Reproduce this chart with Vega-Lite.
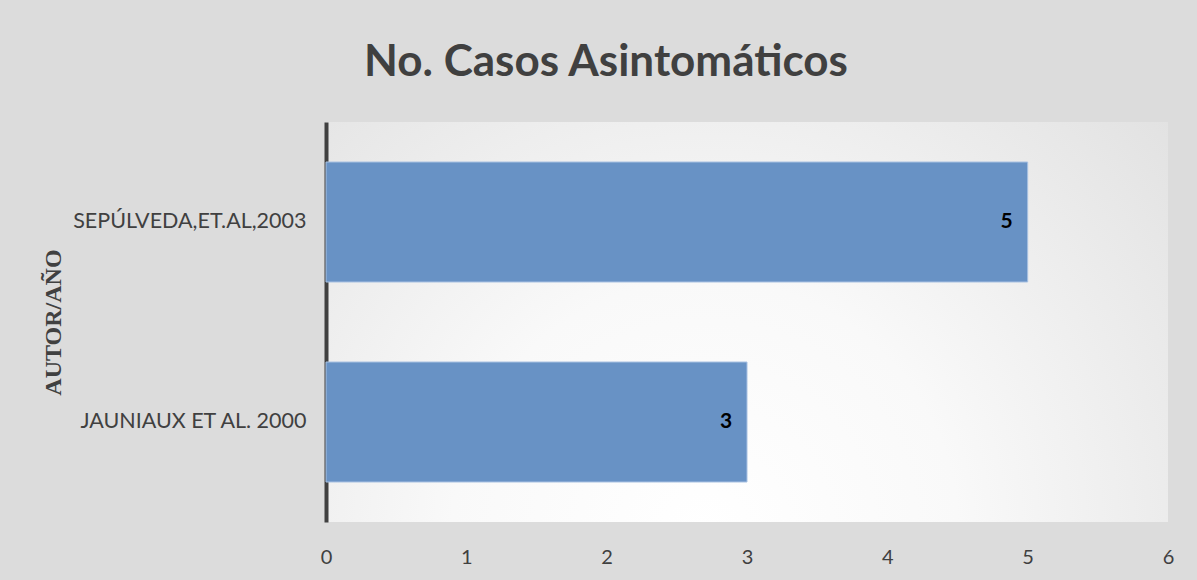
{
  "$schema": "https://vega.github.io/schema/vega-lite/v6.json",
  "width": 842,
  "height": 400,
  "autosize": {"type": "none"},
  "padding": {"left": 326, "top": 122, "right": 29, "bottom": 58},
  "background": "#dcdcdc",
  "title": {
    "text": "No. Casos Asintomáticos",
    "font": "Lato",
    "fontSize": 44,
    "fontWeight": "bold",
    "color": "#404040",
    "anchor": "middle",
    "dx": -141,
    "offset": 37
  },
  "config": {
    "view": {
      "stroke": null,
      "fill": {
        "gradient": "radial",
        "x1": 0.45, "y1": 0.75, "x2": 0.45, "y2": 0.75,
        "r1": 0, "r2": 1,
        "stops": [
          {"offset": 0, "color": "#ffffff"},
          {"offset": 0.3, "color": "#f9f9f9"},
          {"offset": 0.85, "color": "#dcdcdc"},
          {"offset": 1, "color": "#dcdcdc"}
        ]
      }
    }
  },
  "data": {
    "values": [
      {"autor": "SEPÚLVEDA,ET.AL,2003", "casos": 5},
      {"autor": "JAUNIAUX ET AL. 2000", "casos": 3}
    ]
  },
  "encoding": {
    "y": {
      "field": "autor",
      "type": "nominal",
      "sort": ["SEPÚLVEDA,ET.AL,2003", "JAUNIAUX ET AL. 2000"],
      "scale": {"paddingInner": 0.4, "paddingOuter": 0.2},
      "axis": {
        "title": "AUTOR/AÑO",
        "titleFont": "Liberation Serif",
        "titleFontSize": 24,
        "titleFontWeight": "bold",
        "titleColor": "#404040",
        "titlePadding": 61,
        "labelFont": "Lato",
        "labelFontSize": 21.5,
        "labelColor": "#404040",
        "labelPadding": 20,
        "labelLimit": 320,
        "ticks": false,
        "domainColor": "#404040",
        "domainWidth": 4
      }
    },
    "x": {
      "field": "casos",
      "type": "quantitative",
      "scale": {"domain": [0, 6]},
      "axis": {
        "title": null,
        "values": [0, 1, 2, 3, 4, 5, 6],
        "grid": false,
        "domain": false,
        "ticks": false,
        "labelFont": "Lato",
        "labelFontSize": 20,
        "labelColor": "#404040",
        "labelPadding": 25,
        "labelFlush": false
      }
    }
  },
  "layer": [
    {"mark": {"type": "bar", "color": "#6892c5", "stroke": "#a8c1e2", "strokeWidth": 1}},
    {
      "mark": {"type": "text", "align": "center", "dx": -21, "font": "Lato", "fontSize": 21, "fontWeight": "bold", "color": "#000000"},
      "encoding": {"text": {"field": "casos", "type": "quantitative"}}
    }
  ]
}
